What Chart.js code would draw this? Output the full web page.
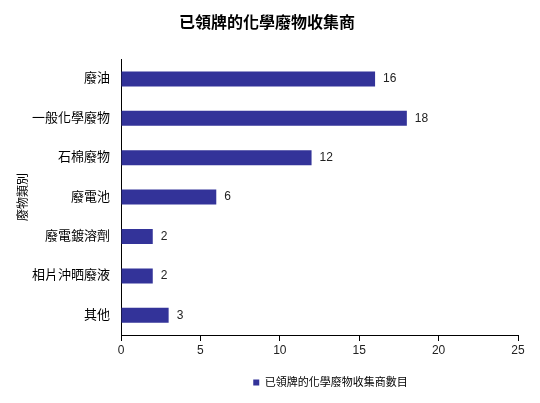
<!DOCTYPE html>
<html>
<head>
<meta charset="utf-8">
<script src="https://cdn.jsdelivr.net/npm/chart.js@4.4.0/dist/chart.umd.min.js"></script>
<style>
  html, body { margin: 0; padding: 0; background: #fff; }
  #wrap { width: 540px; height: 403px; }
</style>
</head>
<body>
<div id="wrap"><canvas id="collectorsChart" width="540" height="403"></canvas></div>
<script>
const categories = ["廢油", "一般化學廢物", "石棉廢物", "廢電池", "廢電鍍溶劑", "相片沖晒廢液", "其他"];
const collectorCounts = [16, 18, 12, 6, 2, 2, 3];
const xTicks = [0, 5, 10, 15, 20, 25];

const FONT = "'Liberation Sans', 'Noto Sans CJK TC', sans-serif";
const barColor = "#333399";

// draw the value next to each bar end
const valueLabels = {
  id: "valueLabels",
  afterDatasetsDraw(chart) {
    const ctx = chart.ctx;
    const meta = chart.getDatasetMeta(0);
    ctx.save();
    ctx.font = "12px " + FONT;
    ctx.fillStyle = "#222";
    ctx.textAlign = "left";
    ctx.textBaseline = "middle";
    meta.data.forEach((bar, i) => {
      ctx.fillText(String(collectorCounts[i]), bar.x + 8, bar.y);
    });
    ctx.restore();
  }
};

// nudge title and legend sideways, the original isn't centred on the canvas
const nudgeBoxes = {
  id: "nudgeBoxes",
  afterLayout(chart) {
    const t = chart.titleBlock;
    if (t) { t.left += 8; t.right += 8; }
    const l = chart.legend;
    if (l) { l.left += 11; l.right += 11; }
  }
};

const chart = new Chart(document.getElementById("collectorsChart"), {
  type: "bar",
  data: {
    labels: categories,
    datasets: [{
      label: "已領牌的化學廢物收集商數目",
      data: collectorCounts,
      backgroundColor: barColor,
      borderWidth: 0,
      barPercentage: 0.38,
      categoryPercentage: 1
    }]
  },
  options: {
    indexAxis: "y",
    responsive: false,
    animation: false,
    layout: { padding: { top: 0, left: 0, right: 22, bottom: 5 } },
    plugins: {
      title: {
        display: true,
        text: "已領牌的化學廢物收集商",
        color: "#000",
        font: { family: FONT, size: 16, weight: "bold" },
        padding: { top: 14, bottom: 26 }
      },
      legend: {
        position: "bottom",
        fullSize: false,
        labels: {
          boxWidth: 6,
          boxHeight: 6,
          padding: 10,
          color: "#000",
          font: { family: FONT, size: 11 }
        }
      },
      tooltip: { enabled: false }
    },
    scales: {
      x: {
        min: 0,
        max: 25,
        afterFit: (s) => { s.height = 32; },
        afterBuildTicks: (s) => { s.ticks = xTicks.map(v => ({ value: v })); },
        grid: { display: true, drawOnChartArea: false, drawTicks: true, tickLength: 6, color: "#000" },
        border: { display: true, color: "#000", width: 1 },
        ticks: { color: "#222", padding: 2, font: { family: FONT, size: 12 } }
      },
      y: {
        afterFit: (s) => { s.width = 121; },
        grid: { display: false, drawTicks: false },
        border: { display: true, color: "#000", width: 1 },
        ticks: { color: "#000", padding: 11, font: { family: FONT, size: 13 } },
        title: {
          display: true,
          text: "廢物類別",
          color: "#000",
          font: { family: FONT, size: 12 },
          padding: { top: 16, bottom: 0 }
        }
      }
    }
  },
  plugins: [valueLabels, nudgeBoxes]
});
</script>
</body>
</html>
